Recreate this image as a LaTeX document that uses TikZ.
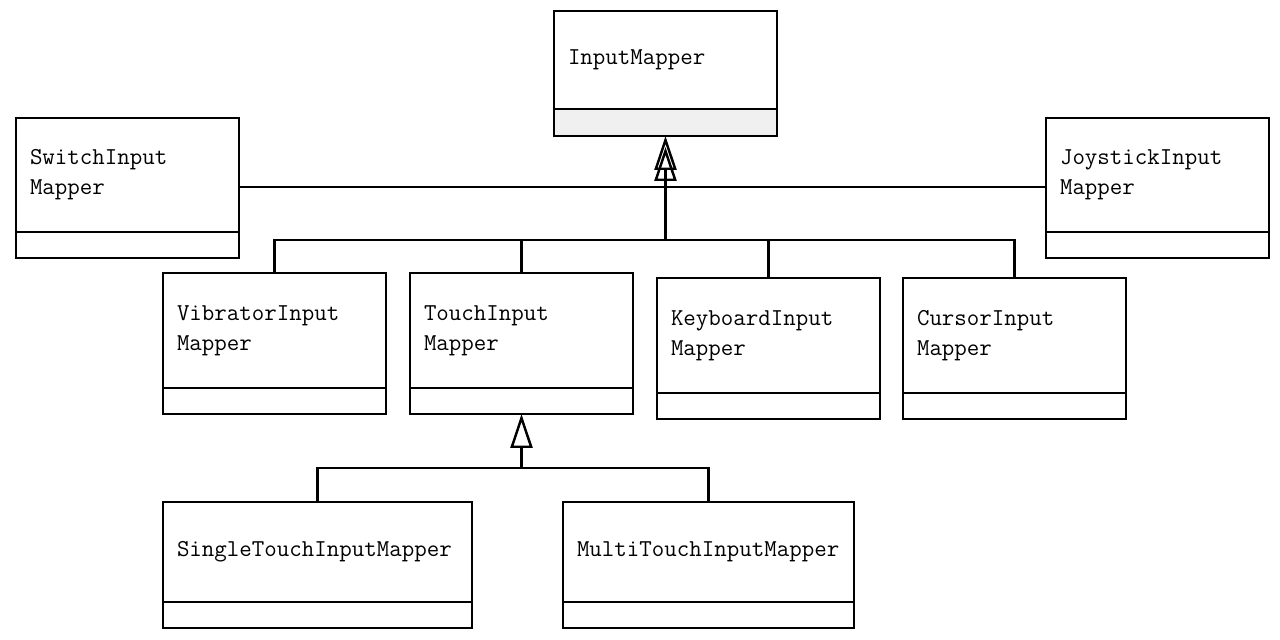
\documentclass[tikz,border=0pt]{standalone}
\usepackage{fontspec}
\usetikzlibrary{positioning,arrows.meta}

\begin{document}
\begin{tikzpicture}[main/.style = {draw, line width=1.5pt, anchor=north west, outer sep=0pt, inner xsep=0.28cm, align=left, font=\ttfamily\fontsize{13.8}{17.2}\selectfont, minimum height=2.3cm, minimum width=4.46cm, text width=3.9cm}, low/.style = {draw, line width=1.5pt, outer sep=0pt, inner sep=0pt, minimum height=0.52cm, minimum width=4.46cm}, inh/.style = {-{Triangle[open,length=0.68cm,width=0.44cm]}}, line width=1.4pt]
        \path[use as bounding box, fill=white] (0,0) rectangle (25.6,12.8);
        \node[main, minimum height=1.96cm] (1) at (11.08,12.58) {InputMapper};
        \node[low, fill=black!6, minimum height=0.54cm, below=0pt of 1] (1b) {};
        \node[main, minimum height=2.28cm] (2) at (0.32,10.44) {SwitchInput\\Mapper};
        \node[low, below=0pt of 2] (2b) {};
        \node[main, minimum height=2.28cm] (3) at (20.92,10.44) {JoystickInput\\Mapper};
        \node[low, below=0pt of 3] (3b) {};
        \node[main] (4) at (3.26,7.34) {VibratorInput\\Mapper};
        \node[low, below=0pt of 4] (4b) {};
        \node[main] (5) at (8.20,7.34) {TouchInput\\Mapper};
        \node[low, below=0pt of 5] (5b) {};
        \node[main] (6) at (13.14,7.24) {KeyboardInput\\Mapper};
        \node[low, below=0pt of 6] (6b) {};
        \node[main] (7) at (18.06,7.24) {CursorInput\\Mapper};
        \node[low, below=0pt of 7] (7b) {};
        \node[main, minimum height=2.0cm, minimum width=6.18cm, text width=5.62cm] (8) at (3.26,2.76) {SingleTouchInputMapper};
        \node[low, minimum width=6.18cm, below=0pt of 8] (8b) {};
        \node[main, minimum height=2.0cm, minimum width=5.82cm, text width=5.26cm] (9) at (11.26,2.76) {MultiTouchInputMapper};
        \node[low, minimum width=5.82cm, below=0pt of 9] (9b) {};
        \coordinate (h1) at (1b.south |- 0,9.06);
        \coordinate (h2) at (1b.south |- 0,8.0);
        \coordinate (h3) at (5b.south |- 0,3.44);
        \draw (2.east |- h1) -- (3.west |- h1);
        \draw[inh, shorten >=0.22cm] (h1) -- (1b.south);
        \draw[inh] (h2) -- (1b.south);
        \draw (4.north) |- (h2) -| (7.north);
        \draw (5.north) -- (5.north |- h2);
        \draw (6.north) -- (6.north |- h2);
        \draw (8.north) |- (h3) -| (9.north);
        \draw[inh] (h3) -- (5b.south);
\end{tikzpicture}
\end{document}
